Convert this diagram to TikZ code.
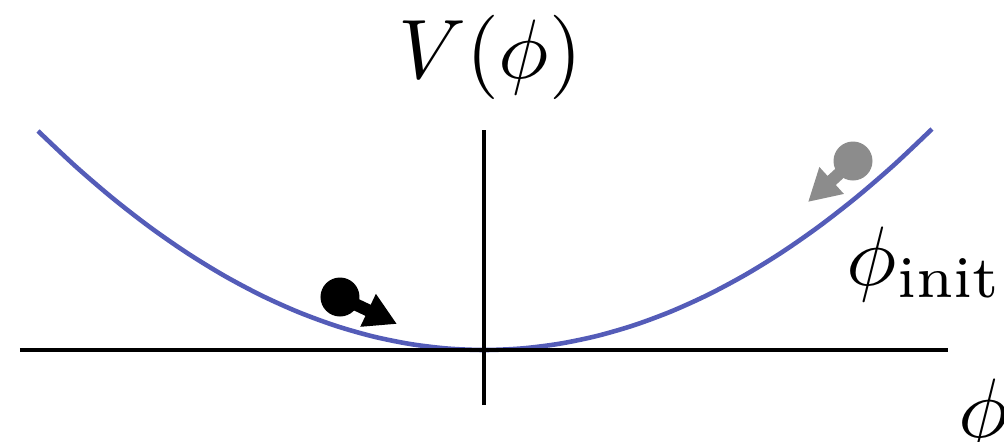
\documentclass[tikz,border=0pt]{standalone}
\usepackage{amsmath}
\usepackage{xcolor}
\usepackage{tikz}
\usetikzlibrary{
	arrows.meta,
	positioning
}
\definecolor{PotBlue}{RGB}{84,92,184}
\definecolor{BallGray}{RGB}{140,140,140}
\tikzset{
	ball/.style={circle, fill, inner sep=0pt, minimum size=0.39cm},
	roll/.style={line width=3.5pt, -{Triangle[length=0.32cm, width=0.34cm]}, shorten <=0.1cm},
	lbl/.style={scale=2.4}
}
\begin{document}
\begin{tikzpicture}
		\useasboundingbox (-4.84,-0.91) rectangle (5.20,3.50);
		% axes
		\coordinate (xl) at (-4.64,0);
		\coordinate (xr) at (4.64,0);
		\coordinate (yb) at (0,-0.55);
		\coordinate (yt) at (0,2.2);
		% V = m^2 phi^2 / 2
		\draw[line width=1.3pt, PotBlue, domain=-4.46:4.48, smooth, variable=\x] plot ({\x}, {0.1101*\x*\x});
		\draw[line width=0.9pt] (xl) -- (xr);
		\draw[line width=0.9pt] (yb) -- (yt);
		
		\node[lbl] (pot) at (0.06,2.93) {$V(\phi)$};
		\node[lbl] (init) at (4.41,0.86) {$\phi_{\text{init}}$};
		\node[lbl] (fld) at (5.0,-0.66) {$\phi$};
		
		\node[ball, black] (bnow) at (-1.44,0.53) {};
		\coordinate (tnow) at (-0.87,0.26);
		\draw[roll, black] (bnow.center) -- (tnow);
		\node[ball, BallGray] (bini) at (3.69,1.89) {};
		\coordinate (tini) at (3.24,1.48);
		\draw[roll, BallGray] (bini.center) -- (tini);
	\end{tikzpicture}
\end{document}
